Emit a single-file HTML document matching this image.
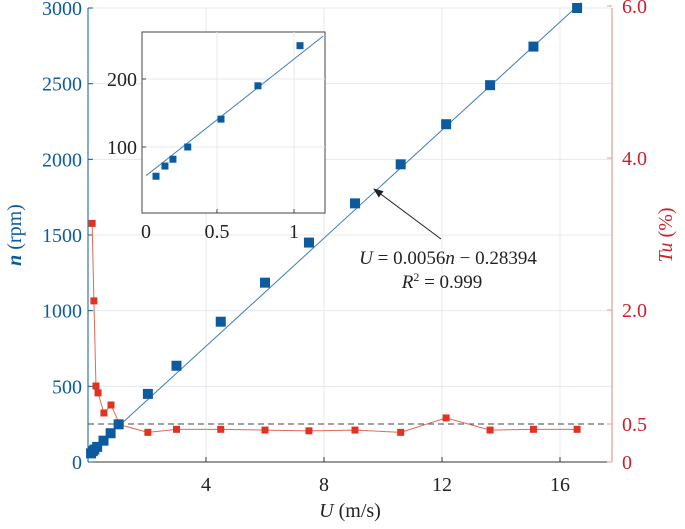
<!DOCTYPE html>
<html><head><meta charset="utf-8"><style>
body{margin:0;background:#fff;}
svg, svg text{font-family:"Liberation Serif","Times New Roman",serif !important;}
</style></head><body>
<svg id="c" width="685" height="524" xmlns="http://www.w3.org/2000/svg" style="font-family:'Liberation Serif',serif"></svg>
<script>
const blueU=[0.104,0.162,0.214,0.31,0.526,0.766,1.039,2.03,3.0,4.5,6.0,7.49,9.05,10.6,12.14,13.63,15.1,16.58];
const blueN=[57,72,82,100,141,190,249,450,636,927,1185,1450,1709,1967,2232,2490,2745,3000];
const redU=[0.14,0.2,0.27,0.34,0.54,0.78,1.08,2.03,3.0,4.5,6.0,7.49,9.05,10.6,12.14,13.63,15.1,16.58];
const redTu=[3.14,2.12,1.0,0.91,0.645,0.75,0.49,0.39,0.43,0.43,0.42,0.41,0.42,0.39,0.58,0.42,0.43,0.43];
const insetU=[0.104,0.162,0.214,0.31,0.526,0.766,1.039];
const insetN=[57,72,82,100,141,190,249];
const xTicks=[4,8,12,16];
const nTicks=[0,500,1000,1500,2000,2500,3000];
const tuTicks=[0,0.5,2.0,4.0,6.0];
const tuLabels=["0","0.5","2.0","4.0","6.0"];
const insetXTicks=[0,0.5,1];
const insetYTicks=[100,200];
const fitA=0.0056, fitB=0.28394;

const svg=document.getElementById('c');const NS='http://www.w3.org/2000/svg';
const FF="Liberation Serif, serif";
function mk(t,a,p){const e=document.createElementNS(NS,t);for(const k in a)e.setAttribute(k,a[k]);if(t==='text')e.setAttribute('font-family',FF);(p||svg).appendChild(e);return e;}
const L=88,R=612,T=8,B=462;
const X=u=>L+u*29.5, Yn=n=>B-n*(B-T)/3000, Yt=t=>B-t*76;
const IL=142,IR=325,IT=32,IB=213;
const IX=u=>140+u*154, IY=n=>215-n*0.68;
const blue='#0b5b9e', red='#c8232c';
const FS=20;
xTicks.forEach(v=>{const g=mk('line',{x1:X(v),x2:X(v),y1:T,y2:B,stroke:'#e4eaf0','stroke-width':1});});
nTicks.forEach(v=>{const g=mk('line',{x1:L,x2:R,y1:Yn(v),y2:Yn(v),stroke:'#e4eaf0','stroke-width':1});});
const d=mk('line',{x1:L,x2:R,y1:Yt(0.5),y2:Yt(0.5),stroke:'#444','stroke-width':1,'stroke-dasharray':'6,4'});

mk('line',{x1:L,x2:L,y1:T,y2:B,stroke:blue,'stroke-width':1});
mk('line',{x1:R,x2:R,y1:T,y2:B,stroke:'#e0a090','stroke-width':1.2});
mk('line',{x1:L,x2:R,y1:B,y2:B,stroke:'#333','stroke-width':1});
xTicks.forEach(v=>{mk('line',{x1:X(v),x2:X(v),y1:B,y2:B-5,stroke:'#333'});const t=mk('text',{x:X(v),y:B+29,'font-size':FS,'text-anchor':'middle',fill:'#222'});t.textContent=v;});
nTicks.forEach(v=>{mk('line',{x1:L,x2:L+5,y1:Yn(v),y2:Yn(v),stroke:blue});const t=mk('text',{x:L-6,y:Yn(v)+7,'font-size':FS,'text-anchor':'end',fill:blue});t.textContent=v;});
tuTicks.forEach((v,i)=>{mk('line',{x1:R,x2:R-5,y1:Yt(v),y2:Yt(v),stroke:'#e0a090'});const t=mk('text',{x:R+10,y:Yt(v)+7,'font-size':FS,fill:red});t.textContent=tuLabels[i];});
const u0=1.05,u1=(3000*fitA-fitB)+0.2;
const fl=mk('line',{x1:X(u0),y1:Yn((u0+fitB)/fitA),x2:X(u1),y2:Yn((u1+fitB)/fitA),stroke:'#3d7db5','stroke-width':1});

const rp=mk('polyline',{points:redU.map((u,i)=>X(u)+','+Yt(redTu[i])).join(' '),fill:'none',stroke:'#e06a55','stroke-width':1});

redU.forEach((u,i)=>{const r=mk('rect',{x:X(u)-3.5,y:Yt(redTu[i])-3.5,width:7,height:7,fill:'#e03322'});});
blueU.forEach((u,i)=>{const r=mk('rect',{x:X(u)-5,y:Yn(blueN[i])-5,width:10,height:10,fill:blue});});
const ib=mk('rect',{x:IL,y:IT,width:IR-IL,height:IB-IT,fill:'#fff',stroke:'#444','stroke-width':1});

insetXTicks.forEach(v=>{if(v>0){mk('line',{x1:IX(v),x2:IX(v),y1:IT,y2:IB,stroke:'#e4eaf0'});mk('line',{x1:IX(v),x2:IX(v),y1:IB,y2:IB-4,stroke:'#444'});}const t=mk('text',{x:IX(v)+(v==0?6:0),y:IB+25,'font-size':FS,'text-anchor':'middle',fill:'#222'});t.textContent=v;});
insetYTicks.forEach(v=>{mk('line',{x1:IL,x2:IR,y1:IY(v),y2:IY(v),stroke:'#e4eaf0'});mk('line',{x1:IL,x2:IL+4,y1:IY(v),y2:IY(v),stroke:'#444'});const t=mk('text',{x:IL-5,y:IY(v)+7,'font-size':FS,'text-anchor':'end',fill:'#222'});t.textContent=v;});
const a0=0.04,a1=1.19;
const il=mk('line',{x1:IX(a0),y1:IY((a0+fitB)/fitA),x2:IX(a1),y2:IY((a1+fitB)/fitA),stroke:'#3d7db5','stroke-width':1});

insetU.forEach((u,i)=>{const r=mk('rect',{x:IX(u)-3.5,y:IY(insetN[i])-3.5,width:7,height:7,fill:blue});});
mk('defs',{}).innerHTML='<marker id="ah" markerWidth="10" markerHeight="8" refX="9" refY="4" orient="auto"><path d="M0,0 L10,4 L0,8 z" fill="#222"/></marker>';
const ar=mk('line',{x1:441,y1:239,x2:374,y2:189,stroke:'#222','stroke-width':1,'marker-end':'url(#ah)'});

</script>
<svg width="685" height="524" style="position:absolute;left:0;top:0" xmlns="http://www.w3.org/2000/svg">
<text x="448" y="264" font-size="19" text-anchor="middle" fill="#222" font-family="Liberation Serif,serif"><tspan font-style="italic">U</tspan> = 0.0056<tspan font-style="italic">n</tspan> − 0.28394</text>
<text x="442" y="288" font-size="19" text-anchor="middle" fill="#222" font-family="Liberation Serif,serif"><tspan font-style="italic">R</tspan><tspan font-size="12" dy="-7">2</tspan><tspan dy="7"> = 0.999</tspan></text>
<text x="350" y="517" font-size="20" text-anchor="middle" fill="#222" font-family="Liberation Serif,serif"><tspan font-style="italic">U</tspan> (m/s)</text>
<text transform="translate(21,235) rotate(-90)" font-size="20" text-anchor="middle" fill="#0b5b9e" font-family="Liberation Serif,serif"><tspan font-style="italic" font-weight="bold">n</tspan> (rpm)</text>
<text transform="translate(672,235) rotate(-90)" font-size="20" text-anchor="middle" fill="#c8232c" font-family="Liberation Serif,serif"><tspan font-style="italic">Tu</tspan> (%)</text>
</svg>
</body></html>
